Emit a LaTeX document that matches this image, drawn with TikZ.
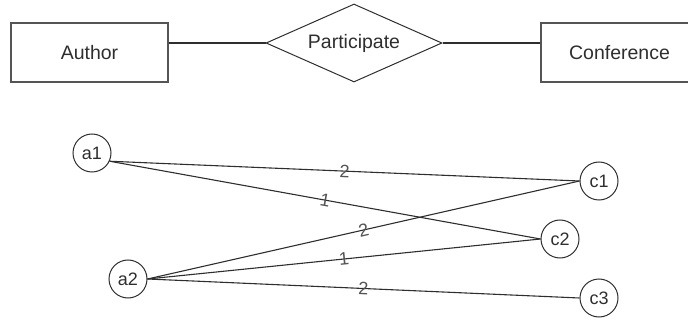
\documentclass[tikz,border=0pt]{standalone}
\usepackage{fontspec}
\setmainfont{Liberation Sans}
\usetikzlibrary{shapes.geometric}
\usetikzlibrary{calc}
\usetikzlibrary{positioning}

\definecolor{inkgray}{HTML}{2E2E2E}
\definecolor{boxgray}{HTML}{555555}
\definecolor{weightgray}{HTML}{555555}

\tikzset{
    entity/.style={draw=boxgray, line width=1.3pt, minimum width=157pt, minimum height=59pt,
        inner sep=0pt, text=inkgray, font=\fontsize{19.5}{22}\selectfont},
    relation/.style={draw=inkgray, line width=1pt, shape=diamond, shape aspect=2.26,
        minimum width=176pt, minimum height=78pt, inner sep=0pt, text=inkgray,
        font=\fontsize{19.5}{22}\selectfont},
    vertex/.style={draw=inkgray, line width=1pt, circle, minimum size=38pt, inner sep=0pt,
        text=inkgray, font=\fontsize{18}{20}\selectfont},
    link/.style={draw=inkgray, line width=1.1pt},
    weight/.style={midway, sloped, inner sep=0pt, text=weightgray, font=\fontsize{18}{20}\selectfont},
}

\begin{document}
\begin{tikzpicture}[x=1pt, y=-1pt]
            \clip (0,0) rectangle (688,323);

            % entity / relationship row
            \draw (89.5,52.5) node[entity] (author) {Author};
            \draw (354,43) node[relation] (part) {Participate};
            \draw (619.5,52.5) node[entity] (conf) {Conference};

            \draw[link] (author.east |- part.west) -- (part.west);
            \draw[link] (part.east) -- (part.east -| conf.west);

            % instance graph
            \draw (92,153) node[vertex] (a1) {a1};
            \draw (128,279) node[vertex] (a2) {a2};
            \draw (599,181) node[vertex] (c1) {c1};
            \draw (560,239) node[vertex] (c2) {c2};
            \draw (599,298) node[vertex] (c3) {c3};

            \draw[link] (a1.-25) -- (c1.west) node[weight] {2};
            \draw[link] (a1.-25) -- (c2.west) node[weight] {1};
            \draw[link] (a2.east) -- (c1.west) node[weight] {2};
            \draw[link] (a2.east) -- (c2.west) node[weight] {1};
            \draw[link] (a2.east) -- (c3.west) node[weight] {2};
        \end{tikzpicture}
\end{document}
